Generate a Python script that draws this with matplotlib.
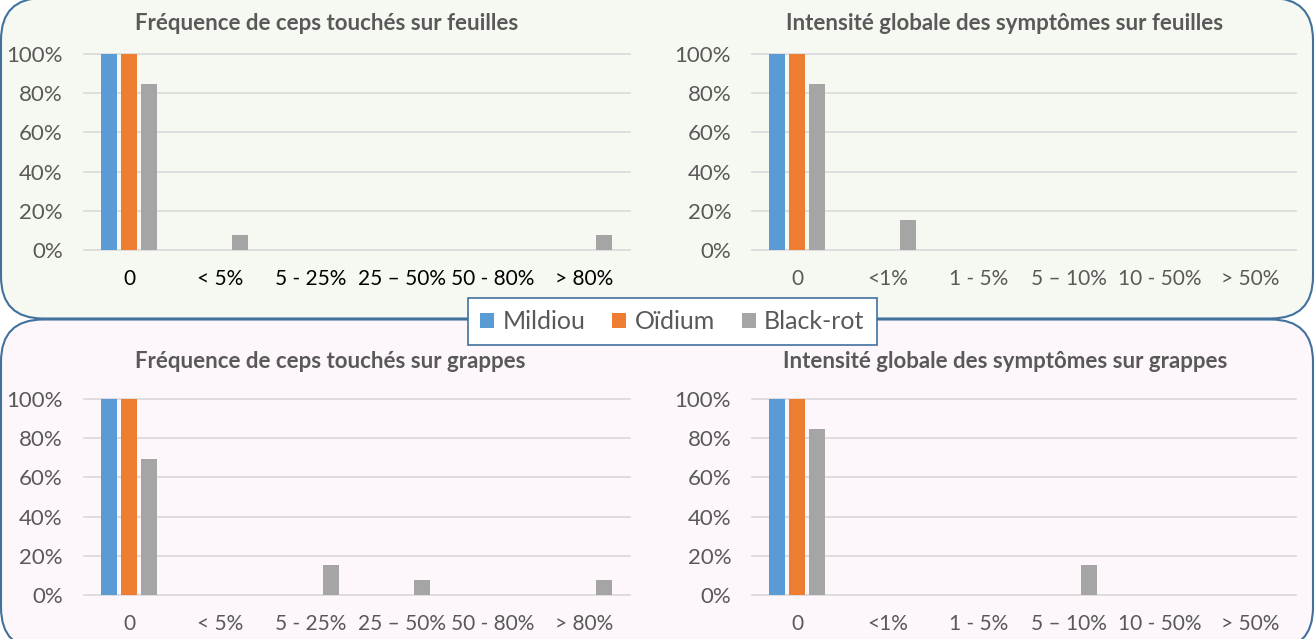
import matplotlib
matplotlib.use('Agg')
import numpy as np
import matplotlib.pyplot as plt
from matplotlib.patches import FancyBboxPatch, Rectangle, Patch

plt.rcParams['font.family'] = ['Lato', 'DejaVu Sans']

# ---------------- data ----------------
series = ['Mildiou', 'Oïdium', 'Black-rot']
colors = ['#5b9bd5', '#ed7d31', '#a5a5a5']

freq_cats = ['0', '< 5%', '5 - 25%', '25 – 50%', '50 - 80%', '> 80%']
int_cats = ['0', '<1%', '1 - 5%', '5 – 10%', '10 - 50%', '> 50%']

freq_feuilles_mildiou = [1.0, 0, 0, 0, 0, 0]
freq_feuilles_oidium = [1.0, 0, 0, 0, 0, 0]
freq_feuilles_blackrot = [0.846, 0.077, 0, 0, 0, 0.077]

int_feuilles_mildiou = [1.0, 0, 0, 0, 0, 0]
int_feuilles_oidium = [1.0, 0, 0, 0, 0, 0]
int_feuilles_blackrot = [0.846, 0.154, 0, 0, 0, 0]

freq_grappes_mildiou = [1.0, 0, 0, 0, 0, 0]
freq_grappes_oidium = [1.0, 0, 0, 0, 0, 0]
freq_grappes_blackrot = [0.692, 0, 0.154, 0.077, 0, 0.077]

int_grappes_mildiou = [1.0, 0, 0, 0, 0, 0]
int_grappes_oidium = [1.0, 0, 0, 0, 0, 0]
int_grappes_blackrot = [0.846, 0, 0, 0.154, 0, 0]

yticks = [0, 0.2, 0.4, 0.6, 0.8, 1.0]
ytick_labels = ['0%', '20%', '40%', '60%', '80%', '100%']

titles = ['Fréquence de ceps touchés sur feuilles',
          'Intensité globale des symptômes sur feuilles',
          'Fréquence de ceps touchés sur grappes',
          'Intensité globale des symptômes sur grappes']

# ---------------- figure ----------------
W, H = 1316, 639
fig = plt.figure(figsize=(W / 100, H / 100), dpi=100)
fig.patch.set_facecolor('white')

bg = fig.add_axes([0, 0, 1, 1])
bg.set_xlim(0, W)
bg.set_ylim(H, 0)
bg.axis('off')

border = '#41719c'
bg.add_patch(FancyBboxPatch((1, -2), 1312, 320.5, boxstyle='round,pad=0,rounding_size=42',
                            facecolor='#f6f9f1', edgecolor=border, lw=1.5, zorder=1))
bg.add_patch(FancyBboxPatch((1, 319.5), 1312, 330, boxstyle='round,pad=0,rounding_size=42',
                            facecolor='#fdf6fb', edgecolor=border, lw=1.5, zorder=1))
bg.add_patch(Rectangle((468, 298), 409, 47, facecolor='white', edgecolor=border, lw=1.2, zorder=5))


def px_axes(l, r, t, b):
    ax = fig.add_axes([l / W, 1 - b / H, (r - l) / W, (b - t) / H])
    ax.patch.set_alpha(0)
    return ax


def draw(ax, cats, vals, title, tx, ty, xlab_color):
    x = np.arange(len(cats))
    offs = [-0.22, 0.0, 0.22]
    for v, c, o in zip(vals, colors, offs):
        ax.bar(x + o, v, width=0.176, color=c, zorder=3)
    ax.set_xlim(-0.5, len(cats) - 0.5)
    ax.set_ylim(0, 1.0)
    ax.set_yticks(yticks)
    ax.set_yticklabels(ytick_labels)
    ax.set_xticks(x)
    ax.set_xticklabels(cats)
    ax.grid(axis='y', color='#d9d9d9', lw=1.2, zorder=0)
    for gl in ax.get_ygridlines():
        gl.set_clip_on(False)
    ax.set_axisbelow(True)
    for s in ax.spines.values():
        s.set_visible(False)
    ax.tick_params(axis='y', length=0, pad=15, labelsize=16, labelcolor='#595959')
    ax.tick_params(axis='x', length=0, pad=14, labelsize=15, labelcolor=xlab_color)
    fig.text(tx / W, 1 - ty / H, title, ha='center', va='center', fontsize=16,
             fontweight='bold', color='#595959')


ax1 = px_axes(83.5, 629.5, 54, 250)
draw(ax1, freq_cats, [freq_feuilles_mildiou, freq_feuilles_oidium, freq_feuilles_blackrot],
     titles[0], 327, 23, '#000000')
ax2 = px_axes(752, 1296, 54, 250)
draw(ax2, int_cats, [int_feuilles_mildiou, int_feuilles_oidium, int_feuilles_blackrot],
     titles[1], 1005, 23, '#595959')
ax3 = px_axes(83.5, 629.5, 399, 595)
draw(ax3, freq_cats, [freq_grappes_mildiou, freq_grappes_oidium, freq_grappes_blackrot],
     titles[2], 330, 361, '#595959')
ax4 = px_axes(752, 1296, 399, 595)
draw(ax4, int_cats, [int_grappes_mildiou, int_grappes_oidium, int_grappes_blackrot],
     titles[3], 1005, 361, '#595959')

handles = [Patch(facecolor=c, edgecolor='none') for c in colors]
leg = fig.legend(handles, series, loc='center', bbox_to_anchor=(672.5 / W, 1 - 321.5 / H),
                 ncol=3, frameon=False, fontsize=18, handlelength=0.56, handleheight=0.56,
                 handletextpad=0.35, columnspacing=1.05, labelcolor='#595959')
leg.set_zorder(10)

fig.savefig('out.png', dpi=100, facecolor='white')
